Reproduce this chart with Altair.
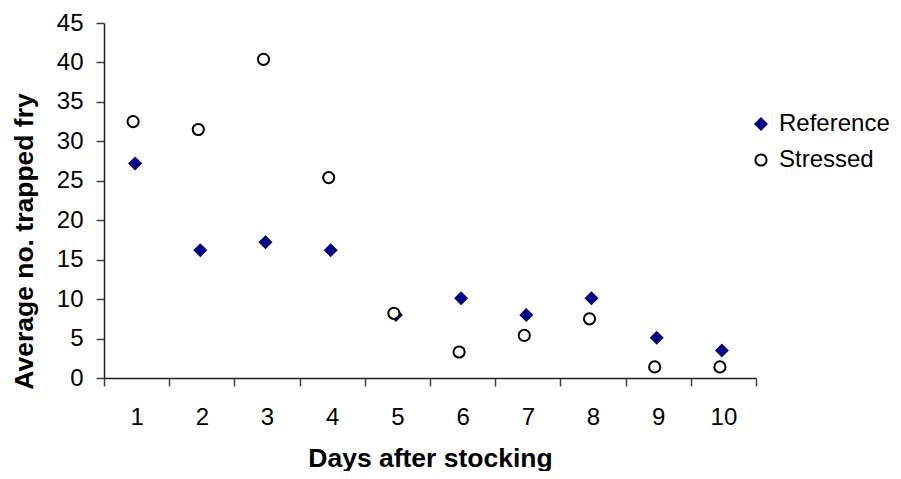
import altair as alt
import pandas as pd

days = [1, 2, 3, 4, 5, 6, 7, 8, 9, 10]
reference = [27.2, 16.2, 17.2, 16.2, 8.0, 10.1, 8.0, 10.1, 5.1, 3.5]
stressed = [32.5, 31.5, 40.4, 25.4, 8.2, 3.3, 5.4, 7.5, 1.4, 1.4]
series_names = ["Reference", "Stressed"]
y_ticks = [0, 5, 10, 15, 20, 25, 30, 35, 40, 45]

rows = []
for d, v in zip(days, reference):
    rows.append({"day": d, "value": v, "series": "Reference"})
for d, v in zip(days, stressed):
    rows.append({"day": d, "value": v, "series": "Stressed"})
df = pd.DataFrame(rows)

FONT = "Liberation Sans"


def make_legend():
    return alt.Legend(
        title=None,
        orient="none",
        legendX=645,
        legendY=89,
        labelOffset=6,
        rowPadding=12,
        symbolSize=125,
        symbolStrokeWidth=2,
        padding=0,
    )


x_enc = alt.X(
    "day:O",
    scale=alt.Scale(type="band", paddingInner=0, paddingOuter=0),
    axis=alt.Axis(
        title="Days after stocking",
        labelAngle=0,
        tickBand="extent",
        tickSize=8,
        labelPadding=38,
        labelBaseline="alphabetic",
        titleBaseline="alphabetic",
        titleY=88,
    ),
)
y_enc = alt.Y(
    "value:Q",
    scale=alt.Scale(domain=[0, 45], nice=False),
    axis=alt.Axis(
        title="Average no. trapped fry",
        values=y_ticks,
        tickSize=8,
        labelPadding=13,
        grid=False,
        titleAngle=270,
        titleBaseline="alphabetic",
        titleX=-72,
        titleY=218,
    ),
)
shape_enc = alt.Shape(
    "series:N",
    scale=alt.Scale(domain=series_names, range=["diamond", "circle"]),
    legend=make_legend(),
)
fill_enc = alt.Fill(
    "series:N",
    scale=alt.Scale(domain=series_names, range=["#000080", "#ffffff"]),
    legend=make_legend(),
)
stroke_enc = alt.Stroke(
    "series:N",
    scale=alt.Scale(domain=series_names, range=["#000080", "#000000"]),
    legend=make_legend(),
)

base = alt.Chart(df).encode(
    x=x_enc, y=y_enc, shape=shape_enc, fill=fill_enc, stroke=stroke_enc,
)

ref_layer = base.transform_filter(alt.datum.series == "Reference").mark_point(
    size=125, strokeWidth=2, opacity=1, fillOpacity=1, xOffset=-1.5
)
str_layer = base.transform_filter(alt.datum.series == "Stressed").mark_point(
    size=125, strokeWidth=2, opacity=1, fillOpacity=1, xOffset=-3.5
)

chart = (
    alt.layer(ref_layer, str_layer)
    .properties(
        width=652,
        height=355,
        autosize="none",
        padding={"left": 96, "top": 15, "right": 137, "bottom": 93},
        background="white",
    )
    .configure_view(stroke=None)
    .configure_axis(
        labelFont=FONT,
        labelFontSize=24,
        labelColor="#000000",
        titleFont=FONT,
        titleFontSize=26.5,
        titleFontWeight="bold",
        titleColor="#000000",
        domainColor="#202020",
        domainWidth=1.5,
        tickColor="#404040",
        tickWidth=1.5,
    )
    .configure_legend(
        labelFont=FONT,
        labelFontSize=24,
        labelColor="#000000",
    )
)

chart.save("out.html", embed_options={"renderer": "svg", "actions": False})
